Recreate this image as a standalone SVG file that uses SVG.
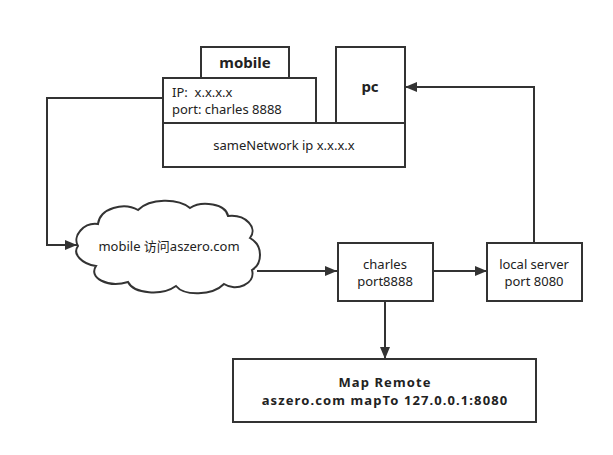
<svg xmlns="http://www.w3.org/2000/svg" width="613" height="455" viewBox="0 0 613 455">
<defs>
<marker id="arr" markerWidth="12" markerHeight="10" refX="12" refY="5" orient="auto" markerUnits="userSpaceOnUse">
<path d="M0,0 L12,5 L0,10 Z" fill="#333"/>
</marker>
<style>
.box{fill:#fff;stroke:#333;stroke-width:2}
.ln{fill:none;stroke:#333;stroke-width:2}
.t{font-family:"Noto Sans","Noto Sans CJK SC",sans-serif;font-size:13px;fill:#222}
.b{font-weight:bold}
.c{text-anchor:middle}
.m{font-size:13px;letter-spacing:1.1px}
</style>
</defs>
<rect width="613" height="455" fill="#fff"/>
<g id="connectors">
<path class="ln" d="M163,98 H47 V245 H77" marker-end="url(#arr)"/>
<path class="ln" d="M257,271 H337" marker-end="url(#arr)"/>
<path class="ln" d="M433,271 H487" marker-end="url(#arr)"/>
<path class="ln" d="M534,243 V87 H405" marker-end="url(#arr)"/>
<path class="ln" d="M385,301 V359" marker-end="url(#arr)"/>
</g>
<g id="mobile-tab">
<rect class="box" x="201" y="47" width="88" height="31"/>
<text class="t b c" x="245" y="68" style="font-size:15px">mobile</text>
</g>
<g id="pc">
<rect class="box" x="336" y="47" width="69" height="76"/>
<text class="t b c" x="370" y="92" style="font-size:15px">pc</text>
</g>
<g id="mobile-info">
<rect class="box" x="163" y="78" width="153" height="45"/>
<text class="t" x="172" y="97">IP:&#160; x.x.x.x</text>
<text class="t" x="172" y="114">port: charles 8888</text>
</g>
<g id="same-network">
<rect class="box" x="163" y="123" width="242" height="44"/>
<text class="t c" x="284" y="150">sameNetwork ip x.x.x.x</text>
</g>
<g id="cloud">
<path class="box" d="M78,246 C72,236 84,222 98,224 C100,208 124,202 138,210 C150,198 178,198 190,208 C202,200 226,204 228,216 C246,214 258,228 250,238 C264,246 262,264 252,270 C256,284 236,292 224,284 C212,296 184,296 176,286 C162,296 134,294 128,282 C108,288 88,278 96,266 C82,264 72,254 78,246 Z"/>
<text class="t c" x="169" y="251">mobile 访问aszero.com</text>
</g>
<g id="charles">
<rect class="box" x="338" y="243" width="95" height="58"/>
<text class="t c" x="385" y="269">charles</text>
<text class="t c" x="385" y="286">port8888</text>
</g>
<g id="local-server">
<rect class="box" x="487" y="243" width="95" height="58"/>
<text class="t c" x="534" y="269">local server</text>
<text class="t c" x="534" y="286">port 8080</text>
</g>
<g id="map-remote">
<rect class="box" x="233" y="359" width="303" height="63"/>
<text class="t b c m" x="385" y="387">Map Remote</text>
<text class="t b c m" x="385" y="405">aszero.com mapTo 127.0.0.1:8080</text>
</g>
</svg>
